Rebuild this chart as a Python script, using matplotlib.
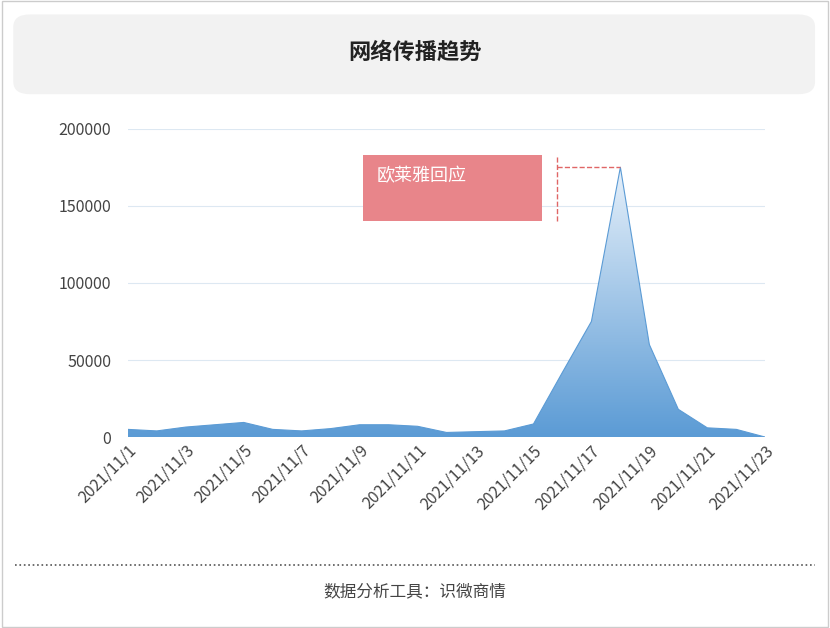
import matplotlib.pyplot as plt
import numpy as np
from matplotlib.patches import FancyBboxPatch, Rectangle

plt.rcParams['font.family'] = 'Noto Sans CJK SC'

dates = ['2021/11/%d' % d for d in range(1, 24)]
values = [5000, 4000, 6500, 8000, 9500, 5000, 4000, 5500, 8000, 8000, 7000, 3000,
          3500, 4000, 8500, 42000, 75000, 175000, 60000, 18000, 6000, 5000, 0]
title = '网络传播趋势'
note = '欧莱雅回应'
source = '数据分析工具：识微商情'

fig = plt.figure(figsize=(8.3, 6.28), dpi=100)
fig.patch.set_facecolor('white')

# outer border
fig.add_artist(Rectangle((0.002, 0.002), 0.996, 0.996, transform=fig.transFigure,
                         fill=False, edgecolor='#cccccc', lw=1))
# title box
fig.add_artist(FancyBboxPatch((0.016, 0.85), 0.966, 0.127, transform=fig.transFigure,
                              boxstyle='round,pad=0,rounding_size=0.02',
                              facecolor='#f2f2f2', edgecolor='none'))
fig.text(0.5, 0.916, title, ha='center', va='center', fontsize=16, fontweight='bold', color='#222222')

ax = fig.add_axes([0.154, 0.304, 0.768, 0.491])
x = np.arange(len(values))
vals = np.array(values)

# vertical gradient fill
ymax = 200000
grad = np.linspace(0, 1, 256).reshape(-1, 1)
cmap = plt.matplotlib.colors.LinearSegmentedColormap.from_list('g', ['#5b9bd5', '#e6f0fa'])
im = ax.imshow(grad, extent=[0, len(values) - 1, 0, max(values)], origin='lower',
               aspect='auto', cmap=cmap, zorder=1)
poly = ax.fill_between(x, vals, 0, facecolor='none', edgecolor='none')
im.set_clip_path(poly.get_paths()[0], transform=ax.transData)
ax.plot(x, vals, color='#5b9bd5', lw=0.8, zorder=2)

ax.set_xlim(0, len(values) - 1)
ax.set_ylim(0, ymax)
ax.set_yticks([0, 50000, 100000, 150000, 200000])
ax.set_xticks(x[::2])
ax.set_xticklabels(dates[::2], rotation=45, ha='right', rotation_mode='anchor')
ax.tick_params(axis='both', length=0, labelsize=11.5, colors='#444444')
ax.tick_params(axis='y', pad=12)
ax.grid(axis='y', color='#dde8f2', lw=0.8)
ax.set_axisbelow(True)
for s in ax.spines.values():
    s.set_visible(False)

# annotation
ax.add_patch(Rectangle((8.1, 140000), 6.2, 43000, facecolor='#e8858a', edgecolor='none', zorder=3))
ax.text(8.6, 169000, note, color='white', fontsize=13, va='center', zorder=4)
ax.plot([14.8, 14.8], [140000, 183000], ls='--', color='#e06666', lw=1, zorder=4)
ax.plot([14.8, 17.0], [175000, 175000], ls='--', color='#e06666', lw=1, zorder=4)

# footer
fig.add_artist(plt.Line2D([0.018, 0.982], [0.1, 0.1], transform=fig.transFigure,
                          ls=':', color='#555555', lw=1.2))
fig.text(0.5, 0.058, source, ha='center', va='center', fontsize=12, color='#444444')

fig.savefig('out.png', dpi=100)
